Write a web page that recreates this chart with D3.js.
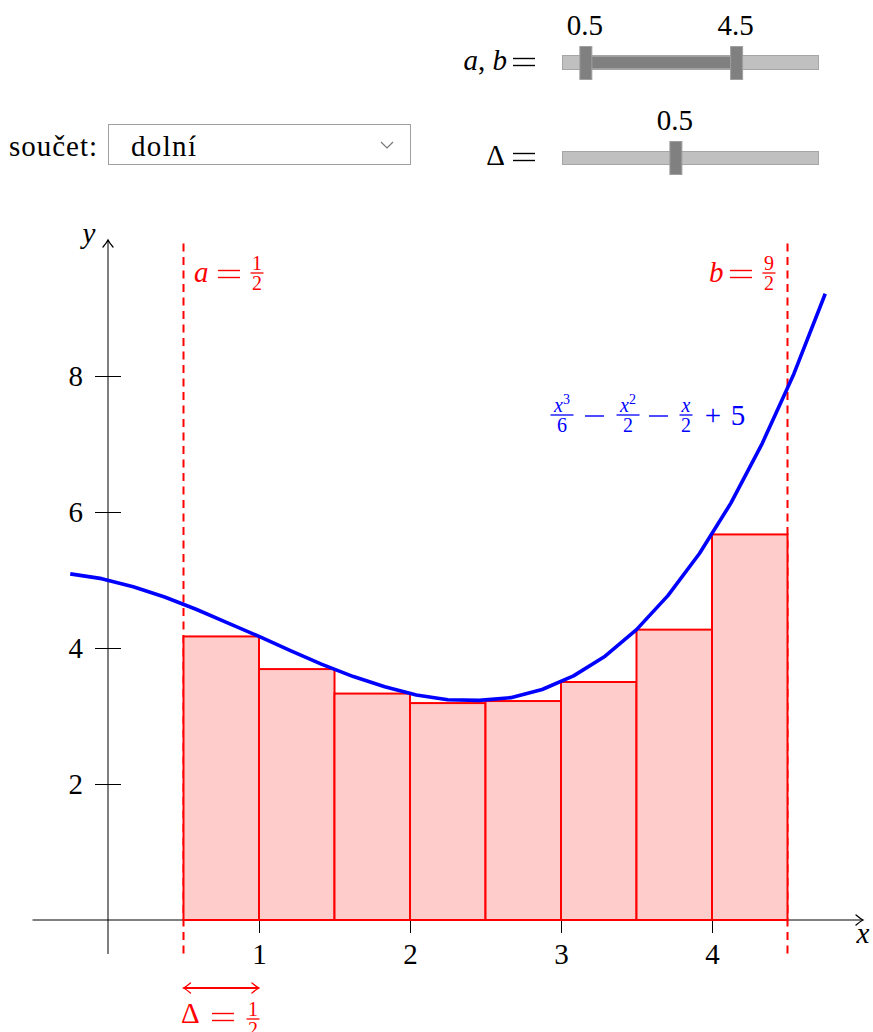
<!DOCTYPE html>
<html>
<head>
<meta charset="utf-8">
<script src="https://cdn.jsdelivr.net/npm/d3@7"></script>
<style>
  html, body { margin: 0; padding: 0; background: #fff; }
  svg { display: block; font-family: "Liberation Serif", "DejaVu Serif", serif; }
  .it { font-style: italic; }
</style>
</head>
<body>
<svg id="chart" width="873" height="1032"></svg>
<script>
// Integration bounds and step
const aVal = 0.5;
const bVal = 4.5;
const delta = 0.5;
const sumKind = "dolní";

// Lower-sum rectangles: left edge and height
const barLefts = [0.5, 1.0, 1.5, 2.0, 2.5, 3.0, 3.5, 4.0];
const barHeights = [4.17, 3.69, 3.33, 3.19, 3.22, 3.50, 4.27, 5.67];

// Sampled points of the curve
const curveX = [-0.25, -0.042, 0.167, 0.375, 0.583, 0.792, 1.0, 1.208, 1.417, 1.625, 1.833, 2.042,
                2.25, 2.458, 2.667, 2.875, 3.083, 3.292, 3.5, 3.708, 3.917, 4.125, 4.333, 4.542, 4.75];
const curveY = [5.09, 5.02, 4.90, 4.75, 4.57, 4.37, 4.17, 3.96, 3.76, 3.58, 3.43, 3.31,
                3.24, 3.23, 3.27, 3.39, 3.59, 3.88, 4.27, 4.77, 5.39, 6.13, 7.01, 8.03, 9.21];

// Axis ticks
const xTicks = [1, 2, 3, 4];
const yTicks = [2, 4, 6, 8];

const svg = d3.select("#chart");
const FS = 29;      // main text size
const FSF = 20;     // fraction numerals
const RED = "#ff0000", BLUE = "#0000ff";

const x = d3.scaleLinear().domain([0, 4]).range([108, 712]);
const y = d3.scaleLinear().domain([0, 8]).range([920, 376]);

// ---------- helpers ----------
function arrowHead(g, px, py, angle, color) {
  g.append("path")
    .attr("d", "M-7,-5 Q-2.5,-1.2 0,0 Q-2.5,1.2 -7,5")
    .attr("transform", `translate(${px},${py}) rotate(${angle})`)
    .attr("fill", "none").attr("stroke", color).attr("stroke-width", 1.3)
    .attr("stroke-linecap", "round");
}
function frac(g, cx, barY, num, den, color, w, numSup) {
  const t = g.append("text").attr("x", cx).attr("y", barY - 3.5)
    .attr("text-anchor", "middle").attr("font-size", FSF).attr("fill", color);
  if (numSup) {
    t.append("tspan").attr("class", "it").text(num);
    t.append("tspan").attr("font-size", 14).attr("dy", -8).text(numSup);
  } else {
    t.attr("class", num === "x" ? "it" : null).text(num);
  }
  g.append("line").attr("x1", cx - w / 2).attr("x2", cx + w / 2)
    .attr("y1", barY).attr("y2", barY).attr("stroke", color).attr("stroke-width", 1.3);
  g.append("text").attr("x", cx).attr("y", barY + 3.5 + 0.68 * FSF)
    .attr("text-anchor", "middle").attr("font-size", FSF).attr("fill", color).text(den);
}
function txt(g, px, py, s, opts = {}) {
  return g.append("text").attr("x", px).attr("y", py)
    .attr("font-size", opts.size || FS).attr("fill", opts.color || "#000")
    .attr("text-anchor", opts.anchor || "start")
    .attr("class", opts.italic ? "it" : null).text(s);
}
// a wide "=" sign drawn as two strokes
function eq(g, cx, cy, color) {
  [-3.5, 3.5].forEach(o => g.append("line")
    .attr("x1", cx - 11).attr("x2", cx + 11).attr("y1", cy + o).attr("y2", cy + o)
    .attr("stroke", color).attr("stroke-width", 1.4));
}

// ---------- controls ----------
const ctl = svg.append("g");
const sAB = d3.scaleLinear().domain([0, 6.5]).range([567, 812]);
const sD = d3.scaleLinear().domain([0.1, 1]).range([567, 812]);

// a, b range slider
const abLbl = ctl.append("text").attr("x", 507).attr("y", 70).attr("font-size", FS).attr("text-anchor", "end");
abLbl.append("tspan").attr("class", "it").text("a");
abLbl.append("tspan").text(", ");
abLbl.append("tspan").attr("class", "it").text("b");
eq(ctl, 524, 62, "#000");

ctl.append("rect").attr("x", 562.5).attr("y", 55.5).attr("width", 256).attr("height", 14)
  .attr("fill", "#c0c0c0").attr("stroke", "#a6a6a6");
ctl.append("rect").attr("x", sAB(aVal)).attr("y", 56.5).attr("width", sAB(bVal) - sAB(aVal)).attr("height", 12)
  .attr("fill", "#808080");
[aVal, bVal].forEach(v => {
  ctl.append("rect").attr("x", sAB(v) - 6).attr("y", 46.5).attr("width", 12).attr("height", 33)
    .attr("fill", "#808080").attr("stroke", "#a0a0a0");
  txt(ctl, sAB(v) - 1, 35, v.toFixed(1), { anchor: "middle" });
});

// delta slider
txt(ctl, 505, 165, "Δ", { anchor: "end" });
eq(ctl, 524, 157, "#000");
ctl.append("rect").attr("x", 562.5).attr("y", 151.5).attr("width", 256).attr("height", 13)
  .attr("fill", "#c0c0c0").attr("stroke", "#a6a6a6");
ctl.append("rect").attr("x", sD(delta) - 6).attr("y", 141.5).attr("width", 12).attr("height", 33)
  .attr("fill", "#808080").attr("stroke", "#a0a0a0");
txt(ctl, sD(delta) - 1, 130, delta.toFixed(1), { anchor: "middle" });

// sum type selector
txt(ctl, 9, 156, "součet:").attr("textLength", 88);
ctl.append("rect").attr("x", 108.5).attr("y", 124.5).attr("width", 302).attr("height", 40)
  .attr("fill", "#fff").attr("stroke", "#a0a0a0");
txt(ctl, 131, 156, sumKind).attr("textLength", 65);
ctl.append("path").attr("d", "M381,142 L387,148 L393,142")
  .attr("fill", "none").attr("stroke", "#777").attr("stroke-width", 1.2);

// ---------- plot ----------
const plot = svg.append("g");

// axes lines
plot.append("line").attr("x1", x(-0.5)).attr("x2", x(5)).attr("y1", y(0)).attr("y2", y(0))
  .attr("stroke", "#000").attr("stroke-width", 1);
arrowHead(plot, x(5), y(0), 0, "#000");
plot.append("line").attr("x1", x(0)).attr("x2", x(0)).attr("y1", y(-0.5)).attr("y2", y(10))
  .attr("stroke", "#000").attr("stroke-width", 1);
arrowHead(plot, x(0), y(10), -90, "#000");
txt(plot, 863, 943, "x", { anchor: "middle", italic: true });
txt(plot, 89, 243, "y", { anchor: "middle", italic: true });

// x axis ticks
const xAxis = d3.axisBottom(x).tickValues(xTicks).tickSize(13).tickFormat(d3.format("d"));
const gx = plot.append("g").attr("transform", `translate(0,${y(0)})`).call(xAxis);
gx.select(".domain").remove();
gx.selectAll(".tick line").attr("stroke", "#000").attr("stroke-width", 1);
gx.selectAll(".tick text").attr("font-family", "Liberation Serif, serif").attr("font-size", FS)
  .attr("fill", "#000").attr("y", 44).attr("dy", null);

// y axis ticks, crossing the axis
const yAxis = d3.axisLeft(y).tickValues(yTicks).tickSize(13).tickFormat(d3.format("d"));
const gy = plot.append("g").attr("transform", `translate(${x(0)},0)`).call(yAxis);
gy.select(".domain").remove();
gy.selectAll(".tick line").attr("x1", 13).attr("x2", -13).attr("stroke", "#000").attr("stroke-width", 1);
gy.selectAll(".tick text").attr("font-family", "Liberation Serif, serif").attr("font-size", FS)
  .attr("fill", "#000").attr("x", -25).attr("dy", "0.33em");

// dashed bounds
[aVal, bVal].forEach(v => {
  plot.append("line").attr("x1", x(v)).attr("x2", x(v)).attr("y1", y(9.95)).attr("y2", y(-0.52))
    .attr("stroke", RED).attr("stroke-width", 2).attr("stroke-dasharray", "8,5.5");
});

// rectangles of the lower sum
plot.append("g").selectAll("rect").data(barLefts).join("rect")
  .attr("x", d => x(d))
  .attr("y", (d, i) => y(barHeights[i]))
  .attr("width", d => x(d + delta) - x(d))
  .attr("height", (d, i) => y(0) - y(barHeights[i]))
  .attr("fill", "#ffcccc").attr("stroke", RED).attr("stroke-width", 2);

// the function curve
const pts = curveX.map((v, i) => [v, curveY[i]]);
plot.append("path").datum(pts)
  .attr("d", d3.line().x(d => x(d[0])).y(d => y(d[1])))
  .attr("fill", "none").attr("stroke", BLUE).attr("stroke-width", 3.6).attr("stroke-linejoin", "round");

// bound labels
const la = plot.append("g");
txt(la, 194, 282, "a", { color: RED, italic: true });
eq(la, 229, 274, RED);
frac(la, 257, 273, "1", "2", RED, 13);
const lb = plot.append("g");
txt(lb, 709, 282, "b", { color: RED, italic: true });
eq(lb, 741, 274, RED);
frac(lb, 769, 273, "9", "2", RED, 13);

// formula label
const lf = plot.append("g");
frac(lf, 562, 415, "x", "6", BLUE, 23, "3");
lf.append("line").attr("x1", 585).attr("x2", 604).attr("y1", 416).attr("y2", 416)
  .attr("stroke", BLUE).attr("stroke-width", 1.4);
frac(lf, 628, 415, "x", "2", BLUE, 23, "2");
lf.append("line").attr("x1", 649).attr("x2", 668).attr("y1", 416).attr("y2", 416)
  .attr("stroke", BLUE).attr("stroke-width", 1.4);
frac(lf, 686, 415, "x", "2", BLUE, 13);
txt(lf, 713, 425, "+", { color: BLUE, anchor: "middle" });
txt(lf, 738, 425, "5", { color: BLUE, anchor: "middle" });

// delta marker
const ld = plot.append("g");
ld.append("line").attr("x1", x(aVal)).attr("x2", x(aVal + delta)).attr("y1", 988).attr("y2", 988)
  .attr("stroke", RED).attr("stroke-width", 2);
arrowHead(ld, x(aVal + delta), 988, 0, RED);
arrowHead(ld, x(aVal), 988, 180, RED);
txt(ld, 181, 1023, "Δ", { color: RED });
eq(ld, 223, 1017, RED);
frac(ld, 253, 1019, "1", "2", RED, 13);
</script>
</body>
</html>
